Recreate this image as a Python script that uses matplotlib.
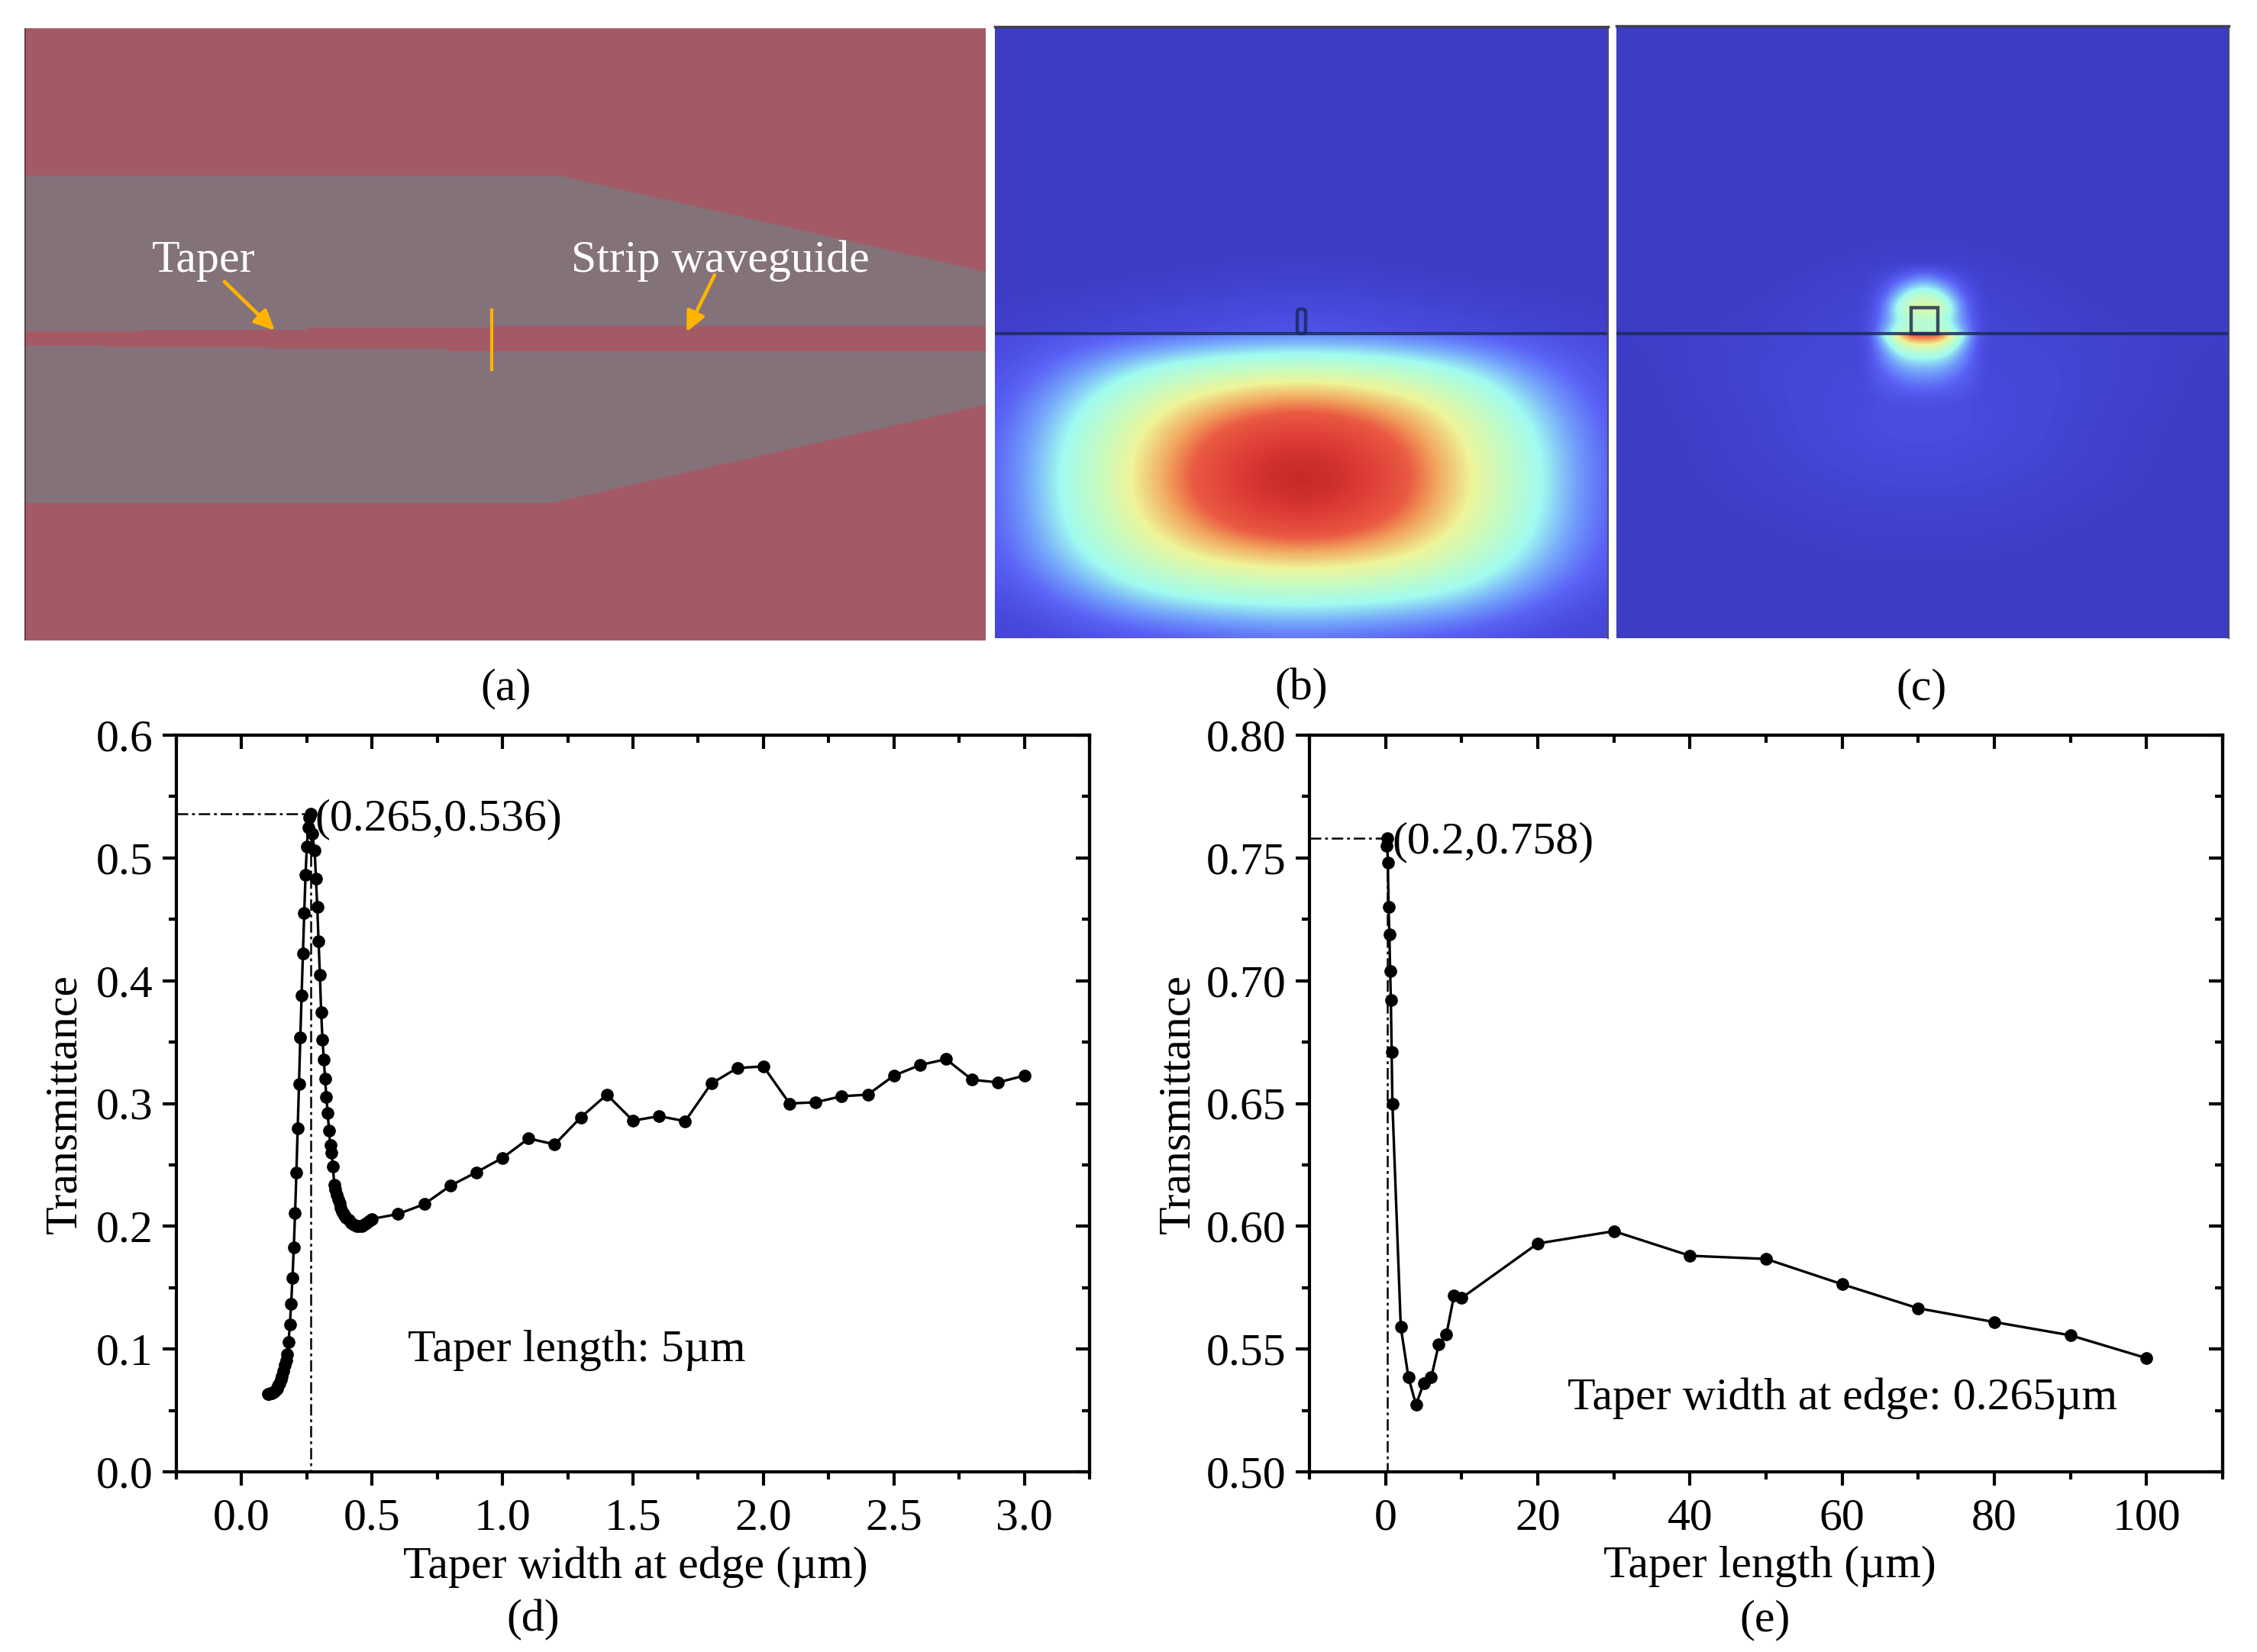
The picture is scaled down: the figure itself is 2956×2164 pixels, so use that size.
import numpy as np
import matplotlib
matplotlib.use("Agg")
import matplotlib.pyplot as plt
from matplotlib.colors import LinearSegmentedColormap
from matplotlib.patches import FancyBboxPatch, Polygon, Rectangle

plt.rcParams['font.family'] = ['Liberation Serif', 'DejaVu Serif']

W, H = 2956, 2164
FS = 43

# Panel (d) data
width_um = [0.10, 0.105, 0.11, 0.115, 0.12, 0.125, 0.13, 0.135, 0.14, 0.145, 0.15, 0.155, 0.16, 0.165, 0.17,
            0.175, 0.18, 0.185, 0.19, 0.195, 0.20, 0.205, 0.21, 0.215, 0.22, 0.225, 0.23, 0.235, 0.24, 0.245,
            0.25, 0.255, 0.26, 0.265, 0.27, 0.28, 0.285, 0.29, 0.295, 0.30, 0.305, 0.31, 0.315, 0.32, 0.325,
            0.33, 0.335, 0.34, 0.345, 0.35, 0.355, 0.36, 0.365, 0.37, 0.375, 0.38, 0.385, 0.39, 0.395, 0.40,
            0.41, 0.42, 0.43, 0.44, 0.45, 0.46, 0.47, 0.48, 0.49, 0.50, 0.6, 0.7, 0.8, 0.9, 1.0,
            1.1, 1.2, 1.3, 1.4, 1.5, 1.6, 1.7, 1.8, 1.9, 2.0, 2.1, 2.2, 2.3, 2.4, 2.5, 2.6, 2.7, 2.8, 2.9, 3.0]
width_trans = [0.0635, 0.0635, 0.064, 0.064, 0.0645, 0.0655, 0.0665, 0.068, 0.070, 0.072, 0.075, 0.078, 0.082, 0.087, 0.091,
               0.096, 0.106, 0.120, 0.137, 0.158, 0.183, 0.211, 0.244, 0.280, 0.316, 0.354, 0.388, 0.422, 0.455, 0.486,
               0.509, 0.525, 0.533, 0.536, 0.520, 0.506, 0.483, 0.460, 0.432, 0.405, 0.374, 0.352, 0.336, 0.320, 0.305,
               0.292, 0.278, 0.266, 0.260, 0.249, 0.234, 0.230, 0.226, 0.222, 0.219, 0.215, 0.212, 0.210, 0.209, 0.207,
               0.205, 0.203, 0.2015, 0.200, 0.200, 0.2005, 0.2015, 0.203, 0.2045, 0.206, 0.210, 0.218, 0.233, 0.244, 0.2557,
               0.2715, 0.2667, 0.2887, 0.3072, 0.286, 0.2897, 0.2856, 0.3162, 0.3289, 0.3302, 0.300, 0.301, 0.3059, 0.3072, 0.3227, 0.3313, 0.3361, 0.3193, 0.3172, 0.3227]
d_xticks = [0.0, 0.5, 1.0, 1.5, 2.0, 2.5, 3.0]
d_xminor = [-0.25, 0.25, 0.75, 1.25, 1.75, 2.25, 2.75, 3.25]
d_yticks = [0.0, 0.1, 0.2, 0.3, 0.4, 0.5, 0.6]
d_yminor = [0.05, 0.15, 0.25, 0.35, 0.45, 0.55]
d_peak = (0.265, 0.536)

# Panel (e) data
length_um = [0.1, 0.2, 0.3, 0.4, 0.5, 0.6, 0.7, 0.8, 0.9, 2, 3, 4, 5, 6, 7, 8, 9, 10,
             20, 30, 40, 50, 60, 70, 80, 90, 100]
length_trans = [0.755, 0.758, 0.748, 0.730, 0.719, 0.704, 0.692, 0.671, 0.650, 0.559, 0.5386, 0.5273, 0.536, 0.5384, 0.552, 0.556, 0.5718, 0.5708,
                0.593, 0.598, 0.588, 0.5867, 0.5764, 0.5666, 0.561, 0.5556, 0.5463]
e_xticks = [0, 20, 40, 60, 80, 100]
e_xminor = [-10, 10, 30, 50, 70, 90, 110]
e_yticks = [0.50, 0.55, 0.60, 0.65, 0.70, 0.75, 0.80]
e_yminor = [0.525, 0.575, 0.625, 0.675, 0.725, 0.775]
e_peak = (0.2, 0.758)

# Field magnitude (b) and (c), 0 = background blue, 1 = dark red
b_lower = [[.05, .07, .09, .11, .12, .11, .09, .07, .05],
           [.06, .17, .33, .43, .47, .43, .33, .17, .06],
           [.08, .27, .50, .66, .74, .66, .50, .27, .08],
           [.09, .33, .56, .81, .93, .81, .56, .33, .09],
           [.09, .34, .58, .85, 1.0, .85, .58, .34, .09],
           [.09, .32, .54, .74, .85, .74, .54, .32, .09],
           [.08, .25, .43, .54, .57, .54, .43, .25, .08],
           [.05, .14, .26, .31, .33, .31, .26, .14, .05],
           [.03, .05, .08, .10, .12, .10, .08, .05, .03]]
b_upper = [[.00, .00, .00, .00, .00, .00, .00, .00, .00],
           [.00, .00, .00, .00, .00, .00, .00, .00, .00],
           [.00, .00, .00, .00, .00, .00, .00, .00, .00],
           [.00, .00, .00, .00, .00, .00, .00, .00, .00],
           [.00, .00, .00, .00, .00, .00, .00, .00, .00],
           [.00, .00, .00, .00, .00, .00, .00, .00, .00],
           [.00, .00, .00, .005, .01, .005, .00, .00, .00],
           [.005, .01, .02, .03, .04, .03, .02, .01, .005],
           [.02, .04, .06, .08, .10, .08, .06, .04, .02]]
c_upper = [[.00, .00, .00, .00, .00, .00, .00, .00, .00],
           [.00, .00, .00, .00, .00, .00, .00, .00, .00],
           [.00, .00, .00, .00, .00, .00, .00, .00, .00],
           [.00, .00, .00, .00, .00, .00, .00, .00, .00],
           [.00, .00, .00, .00, .00, .00, .00, .00, .00],
           [.00, .00, .00, .00, .005, .00, .00, .00, .00],
           [.00, .00, .00, .01, .02, .01, .00, .00, .00],
           [.00, .00, .01, .03, .04, .03, .01, .00, .00],
           [.00, .01, .02, .04, .05, .04, .02, .01, .00]]
c_lower = [[.01, .02, .03, .04, .05, .04, .03, .02, .01],
           [.00, .02, .04, .05, .06, .05, .04, .02, .00],
           [.00, .015, .03, .06, .08, .06, .03, .015, .00],
           [.00, .01, .03, .05, .07, .05, .03, .01, .00],
           [.00, .01, .02, .035, .04, .035, .02, .01, .00],
           [.00, .005, .01, .02, .025, .02, .01, .005, .00],
           [.00, .00, .005, .01, .01, .01, .005, .00, .00],
           [.00, .00, .00, .00, .00, .00, .00, .00, .00],
           [.00, .00, .00, .00, .00, .00, .00, .00, .00]]
c_core_up = [[.02, .02, .03, .04, .05, .04, .03, .02, .02],
             [.02, .03, .05, .09, .12, .09, .05, .03, .02],
             [.02, .04, .10, .19, .25, .19, .10, .04, .02],
             [.03, .06, .16, .34, .45, .34, .16, .06, .03],
             [.04, .08, .20, .50, .52, .50, .20, .08, .04],
             [.04, .09, .20, .33, .33, .33, .20, .09, .04],
             [.04, .10, .28, .55, .32, .55, .28, .10, .04]]
c_core_down = [[.05, .12, .40, .80, .82, .80, .40, .12, .05],
               [.05, .11, .26, .45, .48, .45, .26, .11, .05],
               [.05, .10, .20, .28, .30, .28, .20, .10, .05],
               [.05, .09, .15, .20, .21, .20, .15, .09, .05],
               [.05, .08, .11, .14, .15, .14, .11, .08, .05],
               [.05, .07, .09, .10, .11, .10, .09, .07, .05],
               [.04, .06, .07, .08, .08, .08, .07, .06, .04]]

field_cmap = LinearSegmentedColormap.from_list("field", [
    (0.00, "#3c3cc4"), (0.06, "#4a4ae0"), (0.12, "#5a62f6"), (0.20, "#74a4fb"), (0.30, "#a0fcf0"),
    (0.42, "#c8fbc0"), (0.52, "#eef59a"), (0.63, "#f2a860"), (0.72, "#ea5a42"), (0.85, "#dc3a36"), (1.00, "#b21c1c")])

RED = "#a35a64"
GREY = "#84727b"
ORANGE = "#ffb400"
LINE_DARK = "#1c2a5c"


def px_axes(x0, y0, x1, y1):
    return fig.add_axes([x0 / W, 1 - y1 / H, (x1 - x0) / W, (y1 - y0) / H])


def px_text(x, y, s, **kw):
    kw.setdefault("ha", "center")
    kw.setdefault("va", "center")
    kw.setdefault("fontsize", FS)
    fig.text(x / W, 1 - y / H, s, **kw)


def show_field(ax, values, x0, x1, y0, y1, clip, fade=None):
    # values sit on grid nodes, so the image runs half a cell past the box
    values = np.array(values)
    dx = (x1 - x0) / (values.shape[1] - 1)
    dy = (y1 - y0) / (values.shape[0] - 1)
    alpha = None
    if fade is not None:
        # core patches melt into the coarse field at their outer edge
        alpha = np.ones(values.shape)
        alpha[:, 0] = 0
        alpha[:, -1] = 0
        alpha[fade, :] = 0
    im = ax.imshow(values, cmap=field_cmap, vmin=0, vmax=1, interpolation="bicubic", aspect="auto", alpha=alpha,
                   extent=[x0 - dx / 2, x1 + dx / 2, y1 + dy / 2, y0 - dy / 2])
    im.set_clip_path(Rectangle((clip[0], clip[1]), clip[2] - clip[0], clip[3] - clip[1], transform=ax.transData))


def field_panel(x0, y0, x1, y1):
    ax = px_axes(x0, y0, x1, y1)
    ax.set_facecolor("#3c3cc4")
    ax.set_xticks([])
    ax.set_yticks([])
    return ax


def finish_field(ax, x0, y0, x1, y1, y_line):
    ax.set_xlim(x0, x1)
    ax.set_ylim(y1, y0)
    ax.plot([x0, x1], [y_line, y_line], color=LINE_DARK, lw=3.0, alpha=0.85)
    for side in ax.spines.values():
        side.set_visible(False)
    ax.spines["top"].set_visible(True)
    ax.spines["top"].set_color("#40404c")
    ax.spines["top"].set_linewidth(2.5)
    ax.spines["right"].set_visible(True)
    ax.spines["right"].set_color("#50505c")
    ax.spines["right"].set_linewidth(1.5)


def line_panel(box, xs, ys, xticks, xminor, yticks, yminor, xlim, ylim, peak, fmt):
    ax = px_axes(*box)
    ax.plot(xs, ys, color="black", lw=2.4, marker="o", ms=11, mec="black", mfc="black", zorder=3)
    ax.plot([xlim[0], peak[0], peak[0]], [peak[1], peak[1], ylim[0]], color="black", lw=1.8, ls=(0, (6, 2, 1.5, 2)), zorder=2)
    ax.set_xlim(*xlim)
    ax.set_ylim(*ylim)
    ax.set_xticks(xticks)
    ax.set_xticks(xminor, minor=True)
    ax.set_yticks(yticks)
    ax.set_yticks(yminor, minor=True)
    ax.set_yticklabels([fmt % v for v in yticks])
    ax.tick_params(axis="both", which="major", length=13, width=3, labelsize=FS)
    ax.tick_params(axis="both", which="minor", length=7.5, width=3)
    ax.tick_params(axis="x", which="major", pad=12)
    ax.tick_params(axis="y", which="major", pad=9)
    for side in ax.spines.values():
        side.set_linewidth(3)
    top = ax.secondary_xaxis("top")
    top.set_xticks(xticks)
    top.set_xticks(xminor, minor=True)
    top.tick_params(which="major", direction="in", length=13, width=3, labeltop=False)
    top.tick_params(which="minor", direction="in", length=7.5, width=3)
    top.spines["top"].set_linewidth(3)
    right = ax.secondary_yaxis("right")
    right.set_yticks(yticks)
    right.set_yticks(yminor, minor=True)
    right.tick_params(which="major", direction="in", length=13, width=3, labelright=False)
    right.tick_params(which="minor", direction="in", length=7.5, width=3)
    right.spines["right"].set_linewidth(3)
    return ax


fig = plt.figure(figsize=(W / 100, H / 100), dpi=100, facecolor="white")

# (a) layout of the taper, in picture pixels
ax_a = px_axes(32, 37, 1291, 839)
ax_a.set_facecolor(RED)
ax_a.add_patch(Polygon([(32, 230), (732, 230), (1291, 356), (1291, 427), (644, 427), (644, 429), (402, 429),
                        (402, 432), (185, 432), (185, 434), (32, 434)], fc=GREY, ec="none"))
ax_a.add_patch(Polygon([(32, 453), (139, 453), (139, 455), (354, 455), (354, 457), (585, 457), (585, 460), (1291, 460),
                        (1291, 530), (722, 659), (32, 659)], fc=GREY, ec="none"))
ax_a.plot([644, 644], [406, 484], color=ORANGE, lw=3.0)
ax_a.annotate("", xy=(360, 433), xytext=(294, 369),
              arrowprops=dict(arrowstyle="-|>,head_length=1.6,head_width=0.75", color=ORANGE, lw=3.4, shrinkA=0, shrinkB=0))
ax_a.annotate("", xy=(899, 435), xytext=(936, 360),
              arrowprops=dict(arrowstyle="-|>,head_length=1.6,head_width=0.75", color=ORANGE, lw=3.4, shrinkA=0, shrinkB=0))
ax_a.set_xlim(32, 1291)
ax_a.set_ylim(839, 37)
ax_a.set_xticks([])
ax_a.set_yticks([])
for side in ax_a.spines.values():
    side.set_visible(False)
ax_a.plot([32, 32], [37, 839], color="#5a3a44", lw=2)
px_text(267, 342, "Taper", color="white")
px_text(943, 342, "Strip waveguide", color="white")

# (b) fibre mode
b_x0, b_x1, b_y0, b_y1, b_line = 1303, 2106, 35, 836, 437
ax_b = field_panel(b_x0, b_y0, b_x1, b_y1)
show_field(ax_b, b_upper, b_x0, b_x1, b_y0, b_line, (b_x0, b_y0, b_x1, b_line))
show_field(ax_b, b_lower, b_x0, b_x1, b_line, b_y1, (b_x0, b_line, b_x1, b_y1))
ax_b.add_patch(FancyBboxPatch((1699, 405), 11, 32, boxstyle="round,pad=0,rounding_size=4",
                              fc="none", ec=LINE_DARK, lw=3.2, alpha=0.85))
finish_field(ax_b, b_x0, b_y0, b_x1, b_y1, b_line)

# (c) taper mode
c_x0, c_x1, c_y0, c_y1, c_line = 2117, 2919, 34, 836, 437
ax_c = field_panel(c_x0, c_y0, c_x1, c_y1)
show_field(ax_c, c_upper, c_x0, c_x1, c_y0, c_line, (c_x0, c_y0, c_x1, c_line))
show_field(ax_c, c_lower, c_x0, c_x1, c_line, c_y1, (c_x0, c_line, c_x1, c_y1))
show_field(ax_c, c_core_up, 2430, 2610, 340, c_line, (2430, 340, 2610, c_line), fade=0)
show_field(ax_c, c_core_down, 2430, 2610, c_line, 533, (2430, c_line, 2610, 533), fade=-1)
ax_c.add_patch(Rectangle((2503, 403), 35, 34, fc="none", ec="#26304c", lw=3.2, alpha=0.85))
finish_field(ax_c, c_x0, c_y0, c_x1, c_y1, c_line)

px_text(663, 902, "(a)")
px_text(1704, 902, "(b)")
px_text(2517, 902, "(c)")

# (d)
line_panel((231, 963, 1427, 1928), width_um, width_trans, d_xticks, d_xminor, d_yticks, d_yminor,
           (-0.25, 3.25), (0.0, 0.6), d_peak, "%.1f")
px_text(412, 1073, "(0.265,0.536)", ha="left")
px_text(755, 1769, "Taper length: 5µm")
px_text(85, 1446, "Transmittance", rotation=90)
px_text(832, 2053, "Taper width at edge (µm)")
px_text(698, 2122, "(d)")

# (e)
line_panel((1715, 963, 2911, 1928), length_um, length_trans, e_xticks, e_xminor, e_yticks, e_yminor,
           (-10, 110), (0.50, 0.80), e_peak, "%.2f")
px_text(1823, 1103, "(0.2,0.758)", ha="left")
px_text(2413, 1832, "Taper width at edge: 0.265µm")
px_text(1543, 1446, "Transmittance", rotation=90)
px_text(2318, 2052, "Taper length (µm)")
px_text(2312, 2122, "(e)")

fig.savefig("out.png", dpi=100)
